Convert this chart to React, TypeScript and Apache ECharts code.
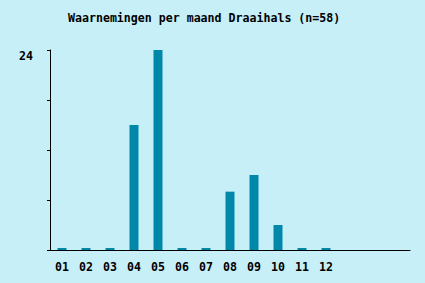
import React, { useEffect, useRef } from "react";
import * as echarts from "echarts";

const title = "Waarnemingen per maand Draaihals (n=58)";
const months = ["01", "02", "03", "04", "05", "06", "07", "08", "09", "10", "11", "12"];
const counts = [0, 0, 0, 15, 24, 0, 0, 7, 9, 3, 0, 0];
const emptySlots = ["", "", ""];
const yMax = 24;
const yStep = 6;

export default function App() {
  const ref = useRef<HTMLDivElement>(null);
  useEffect(() => {
    if (!ref.current) return;
    const chart = echarts.init(ref.current, null, { renderer: "svg" });
    const font = "'DejaVu Sans Mono', 'Liberation Mono', monospace";
    const cats = [...months, ...emptySlots];
    chart.setOption({
      animation: false,
      backgroundColor: "#c6eff7",
      title: {
        text: title,
        left: 63,
        top: 7,
        textStyle: { fontFamily: font, fontWeight: "bold", fontSize: 11.6, color: "#000" },
      },
      grid: { left: 50, right: 15, top: 50, bottom: 33, containLabel: false },
      xAxis: {
        type: "category",
        data: cats,
        boundaryGap: true,
        axisLine: { lineStyle: { color: "#000", width: 1 } },
        axisTick: {
          alignWithLabel: true,
          length: 3,
          interval: (i: number) => i < months.length,
          lineStyle: { color: "#000" },
        },
        axisLabel: {
          interval: 0,
          margin: 11,
          fontFamily: font,
          fontWeight: "bold",
          fontSize: 11.6,
          color: "#000",
        },
        splitLine: { show: false },
      },
      yAxis: {
        type: "value",
        min: 0,
        max: yMax,
        interval: yStep,
        axisLine: { show: true, lineStyle: { color: "#000", width: 1 } },
        axisTick: { show: true, length: 3, lineStyle: { color: "#000" } },
        splitLine: { show: false },
        axisLabel: {
          margin: 17,
          fontFamily: font,
          fontWeight: "bold",
          fontSize: 11.6,
          color: "#000",
          verticalAlign: "top",
          formatter: (v: number) => (v === yMax ? String(v) : ""),
        },
      },
      series: [
        {
          type: "bar",
          data: counts,
          barWidth: 9,
          barMinHeight: 2,
          itemStyle: { color: "#0088aa" },
        },
      ],
    });
    return () => chart.dispose();
  }, []);
  return (
    <div
      ref={ref}
      style={{ position: "fixed", left: 0, top: 0, width: 425, height: 283 }}
    />
  );
}
